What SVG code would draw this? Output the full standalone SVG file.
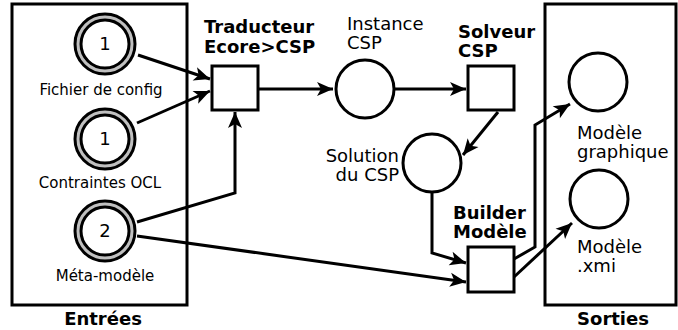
<svg xmlns="http://www.w3.org/2000/svg" width="678" height="330" viewBox="0 0 678 330">
<style>
text{font-family:"DejaVu Sans","Liberation Sans",sans-serif;fill:#000}
.lbl{font-size:15px}
.mid{font-size:18px}
.b{font-size:18px;font-weight:bold}
.frame{fill:none;stroke:#000;stroke-width:3}
.box{fill:#fff;stroke:#000;stroke-width:3}
.place{fill:#fff;stroke:#000;stroke-width:3}
.ring{fill:#c0c0c0;stroke:#000;stroke-width:3}
.edge{fill:none;stroke:#000;stroke-width:3;marker-end:url(#ah)}
</style>
<defs>
<marker id="ah" markerUnits="userSpaceOnUse" markerWidth="20" markerHeight="20" refX="0" refY="0" viewBox="-18 -10 20 20" orient="auto">
<path d="M0,0 L-16,-7 L-12,0 L-16,7 Z" fill="#000"/>
</marker>
</defs>
<rect width="678" height="330" fill="#fff"/>
<g id="entrees">
<rect class="frame" x="12" y="4" width="175" height="301"/>
<text class="b" x="103" y="325" text-anchor="middle">Entrées</text>
</g>
<g id="sorties">
<rect class="frame" x="545" y="4" width="131" height="301"/>
<text class="b" x="613" y="325" text-anchor="middle">Sorties</text>
</g>
<g id="connectors">
<path class="edge" d="M138,55 L210,79"/>
<path class="edge" d="M137,123 L210,91"/>
<path class="edge" d="M137,222 L235,193 L235,112"/>
<path class="edge" d="M137,236 L466,282"/>
<path class="edge" d="M258,89 L333,89"/>
<path class="edge" d="M395,89 L466,89"/>
<path class="edge" d="M498,112 L463,155"/>
<path class="edge" d="M432,193 L432,253 L466,263"/>
<path class="edge" d="M514,259 L535,247 L535,125 L570,104"/>
<path class="edge" d="M514,277 L572,223"/>
</g>
<g id="fichier">
<circle class="ring" cx="105" cy="44" r="30"/>
<circle class="place" cx="105" cy="44" r="24"/>
<text class="mid" x="105" y="50" text-anchor="middle">1</text>
<text class="lbl" x="101" y="95" text-anchor="middle">Fichier de config</text>
</g>
<g id="contraintes">
<circle class="ring" cx="105" cy="139" r="30"/>
<circle class="place" cx="105" cy="139" r="24"/>
<text class="mid" x="105" y="145" text-anchor="middle">1</text>
<text class="lbl" x="100" y="188" text-anchor="middle">Contraintes OCL</text>
</g>
<g id="metamodele">
<circle class="ring" cx="105" cy="231" r="30"/>
<circle class="place" cx="105" cy="231" r="24"/>
<text class="mid" x="105" y="237" text-anchor="middle">2</text>
<text class="lbl" x="105" y="281" text-anchor="middle">Méta-modèle</text>
</g>
<g id="traducteur">
<rect class="box" x="212" y="66" width="46" height="44"/>
<text class="b" x="204" y="33">Traducteur</text>
<text class="b" x="204" y="53">Ecore&gt;CSP</text>
</g>
<g id="instance">
<circle class="place" cx="365" cy="89" r="29"/>
<text class="mid" x="347" y="30">Instance</text>
<text class="mid" x="347" y="49">CSP</text>
</g>
<g id="solveur">
<rect class="box" x="468" y="66" width="46" height="44"/>
<text class="b" x="458" y="38">Solveur</text>
<text class="b" x="458" y="57">CSP</text>
</g>
<g id="solution">
<circle class="place" cx="432" cy="163" r="29"/>
<text class="mid" x="399" y="162" text-anchor="end">Solution</text>
<text class="mid" x="399" y="181" text-anchor="end">du CSP</text>
</g>
<g id="builder">
<rect class="box" x="468" y="247" width="46" height="45"/>
<text class="b" x="453" y="219">Builder</text>
<text class="b" x="453" y="238">Modèle</text>
</g>
<g id="graphique">
<circle class="place" cx="598" cy="82" r="29"/>
<text class="mid" x="577" y="139">Modèle</text>
<text class="mid" x="577" y="158">graphique</text>
</g>
<g id="xmi">
<circle class="place" cx="599" cy="199" r="29"/>
<text class="mid" x="577" y="253">Modèle</text>
<text class="mid" x="577" y="272">.xmi</text>
</g>
</svg>
